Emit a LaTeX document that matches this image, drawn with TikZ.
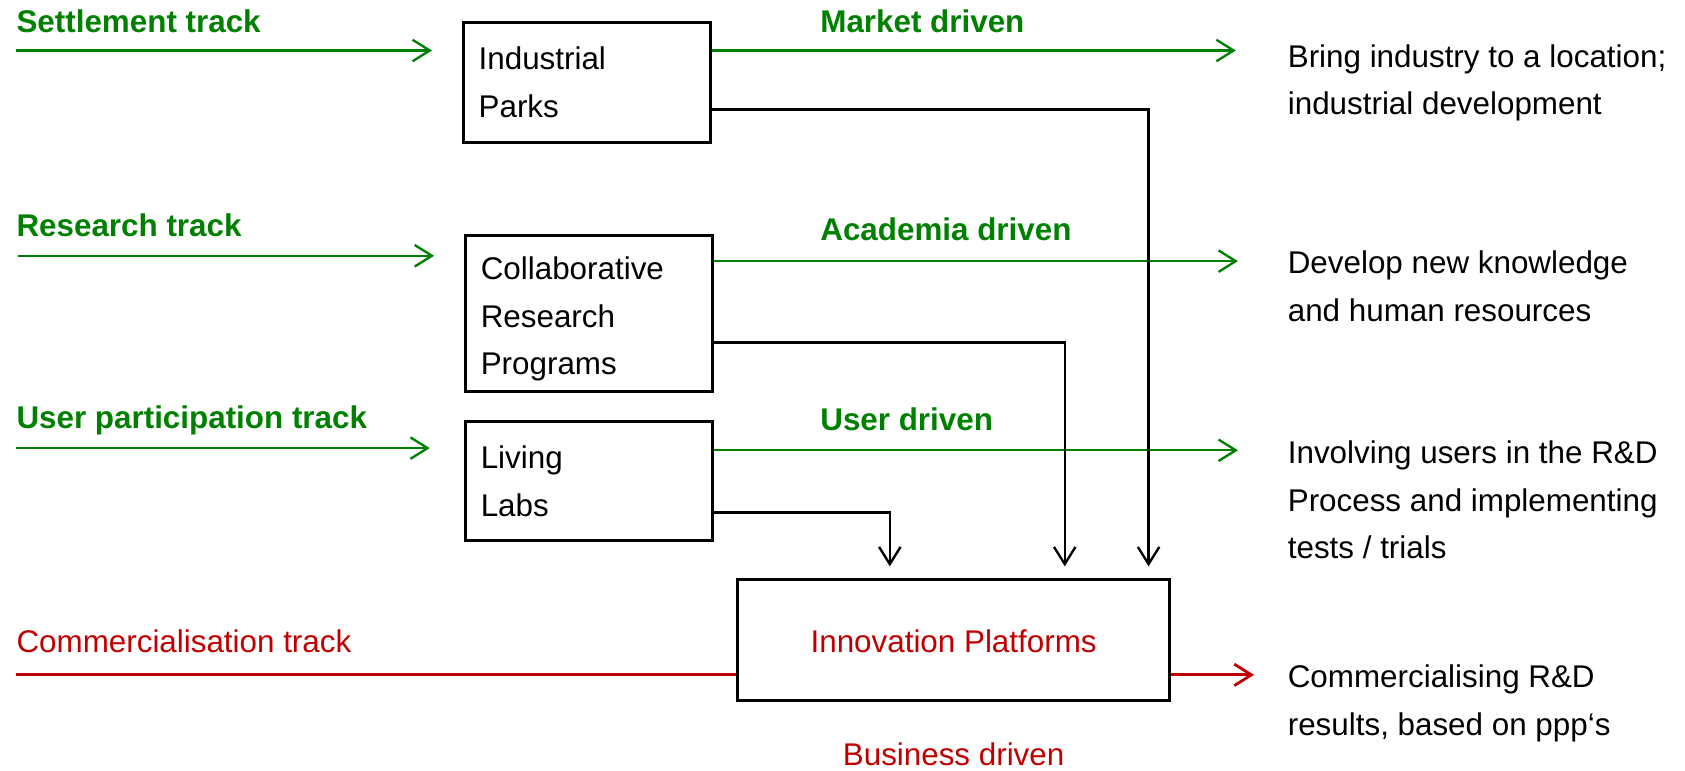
\documentclass[tikz,border=0pt]{standalone}
\usepackage{fontspec}
\setmainfont{Liberation Sans}
\usetikzlibrary{arrows.meta,positioning,calc}
\definecolor{trackgreen}{RGB}{0,128,0}
\definecolor{trackred}{RGB}{192,0,0}

\begin{document}
\begin{tikzpicture}[x=0.5pt,y=-0.5pt,
  font=\fontsize{14.6pt}{22.2pt}\selectfont,
  trk/.style={font=\fontsize{14.6pt}{22.2pt}\selectfont\bfseries, text=trackgreen, inner sep=0, anchor=base west},
  note/.style={inner sep=0, anchor=base west, align=left},
  box/.style={draw, line width=1.4pt, inner xsep=7pt, inner ysep=0, text width=101pt, align=left, anchor=north west},
  greenarr/.style={trackgreen, line width=1.1pt, -{Straight Barb[length=8pt,width=10pt]}},
  redarr/.style={trackred, line width=1.3pt, -{Straight Barb[length=8pt,width=10pt]}},
  feed/.style={black, line width=1.1pt, -{Straight Barb[length=8pt,width=10pt]}, shorten >=5.5pt}]
\useasboundingbox (0,0) rectangle (1568,717);
% boxes
\node[box, minimum height=55.5pt] (ip) at (430,20) {Industrial\\Parks};
\node[box, minimum height=72.5pt, text height=15.6pt] (crp) at (432,218) {Collaborative\\Research\\Programs};
\node[box, minimum height=55.5pt] (ll) at (432,391) {Living\\Labs};
\node[draw, line width=1.4pt, minimum width=201pt, minimum height=56pt, inner sep=0, anchor=north west] (ipf) at (685,538) {};
\node[text=trackred, inner sep=0, anchor=base] (ipftxt) at ($(ipf.north)+(0,69.5)$) {Innovation Platforms};
\node[text=trackred, inner sep=0, anchor=base] (bus) at ($(ipf.south)+(0,60)$) {Business driven};
% track labels
\node[trk] (settle) at (15,30.5) {Settlement track};
\node[trk] (research) at (15,220.5) {Research track};
\node[trk] (userpart) at (15,398.5) {User participation track};
\node[text=trackred, inner sep=0, anchor=base west] (commtrk) at (15,607.5) {Commercialisation track};
\node[trk] (market) at (763,30.5) {Market driven};
\node[trk] (academia) at (763,223.5) {Academia driven};
\node[trk] (userdrv) at (763,400.5) {User driven};
% goals (base = last line)
\node[note] (bring) at (1198,107) {Bring industry to a location;\\industrial development};
\node[note] (develop) at (1198,299) {Develop new knowledge\\and human resources};
\node[note] (involve) at (1198,520) {Involving users in the R\&D\\Process and implementing\\tests / trials};
\node[note] (commres) at (1198,684.5) {Commercialising R\&D\\results, based on ppp`s};
% track starts
\coordinate (s1) at (15,47);
\coordinate (s2) at (17,238);
\coordinate (s3) at (15,417);
\coordinate (s4) at (15,628);
% arrows
\draw[greenarr, shorten >=14pt] (s1) -- (s1 -| ip.west);
\draw[greenarr, shorten >=14pt] (s2) -- (s2 -| crp.west);
\draw[greenarr, shorten >=16pt] (s3) -- (s3 -| ll.west);
\draw[greenarr, shorten >=24pt] ($(ip.north east)+(0,27)$) -- ($(ip.north east -| bring.west)+(0,27)$);
\draw[greenarr, shorten >=23pt] ($(crp.north east)+(0,25)$) -- ($(crp.north east -| develop.west)+(0,25)$);
\draw[greenarr, shorten >=23pt] ($(ll.north east)+(0,28)$) -- ($(ll.north east -| involve.west)+(0,28)$);
\draw[trackred, line width=1.3pt] (s4) -- (s4 -| ipf.west);
\draw[redarr, shorten >=15.5pt] (s4 -| ipf.east) -- (s4 -| commres.west);
\draw[feed] ($(ip.south east)+(0,-32)$) -| ($(ipf.north east)+(-21,0)$);
\draw[feed] ($(crp.south east)+(0,-47)$) -| ($(ipf.north east)+(-99,0)$);
\draw[feed] ($(ll.south east)+(0,-28)$) -| ($(ipf.north west)+(143,0)$);
\end{tikzpicture}
\end{document}
